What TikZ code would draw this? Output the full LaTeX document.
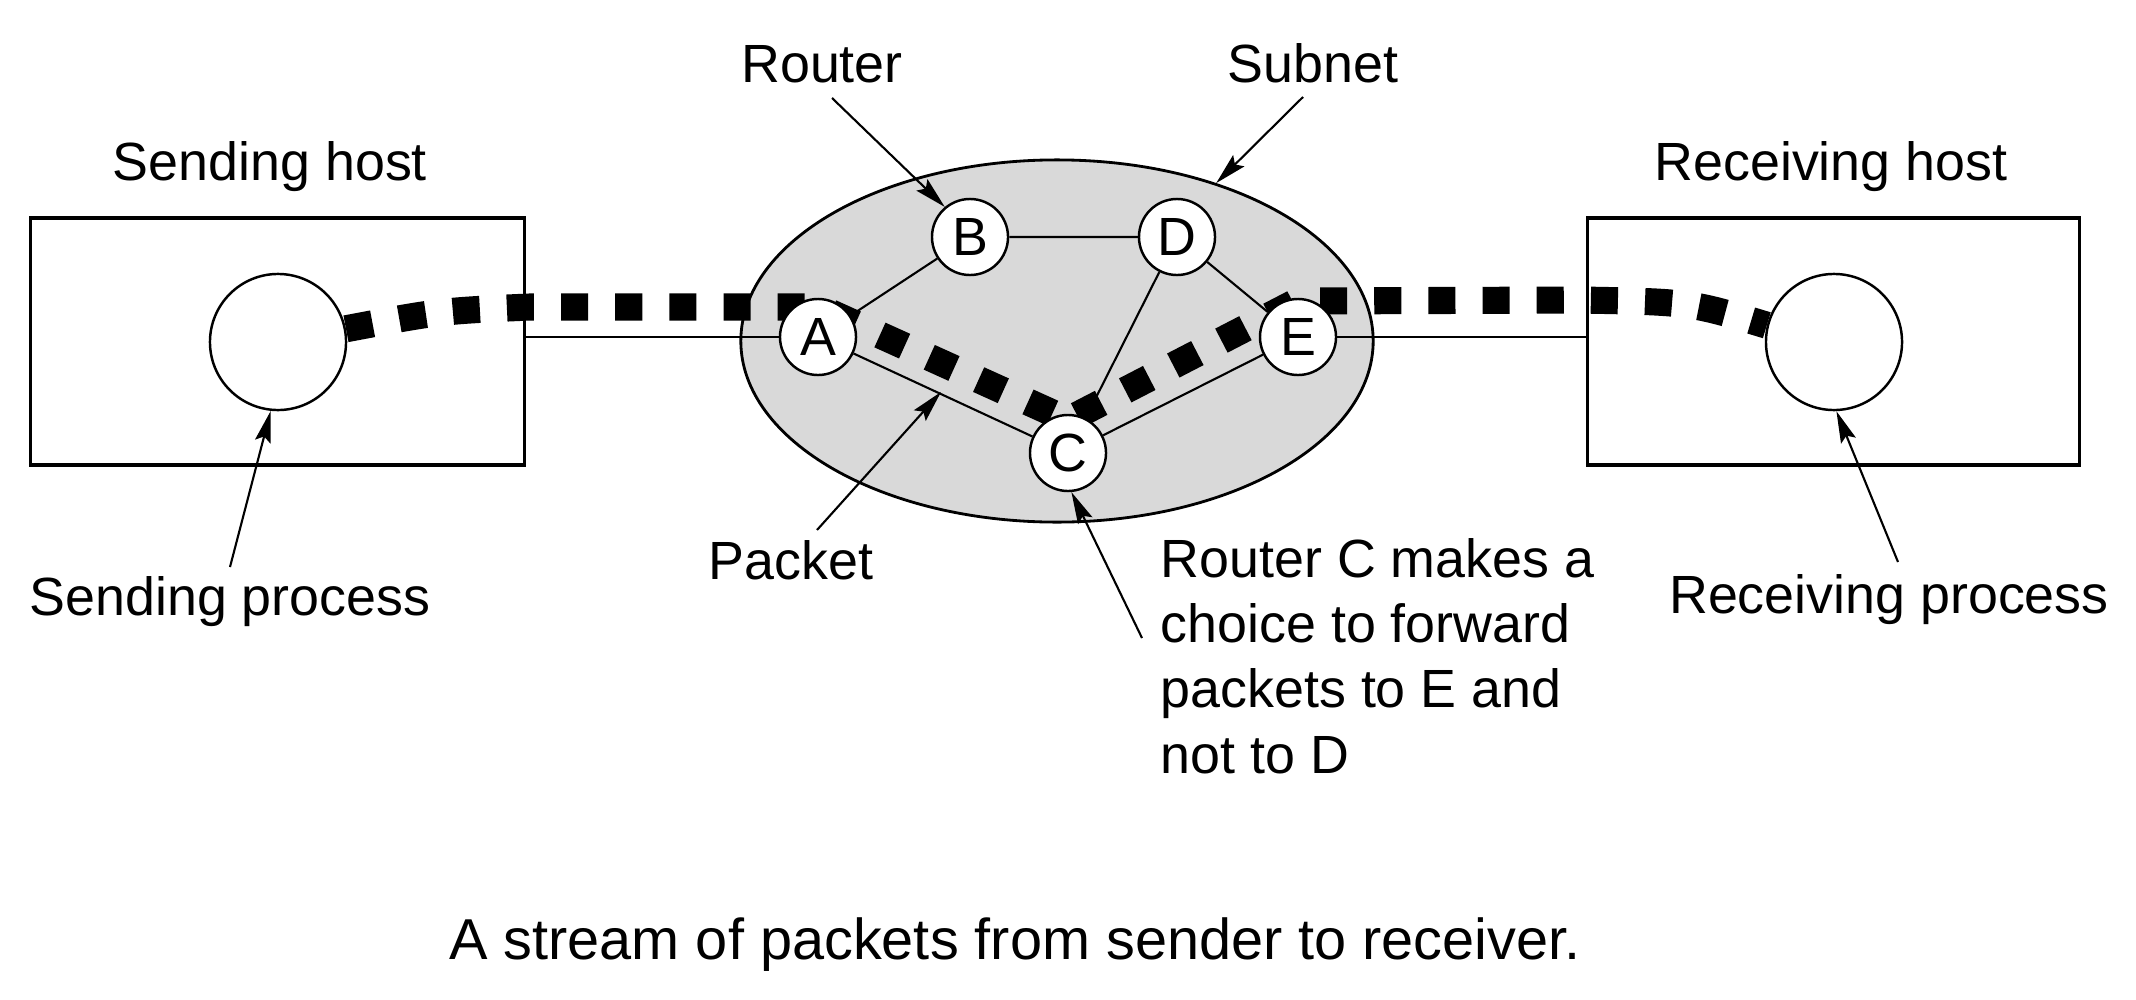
\documentclass[tikz,border=0pt]{standalone}
\usepackage{fontspec}
\setmainfont{Liberation Sans}
\usetikzlibrary{arrows.meta,shapes.geometric}
\pgfdeclarelayer{bg}
\pgfdeclarelayer{mid}
\pgfsetlayers{bg,mid,main}

\newcommand{\lblfont}{\fontsize{15.3}{18.5}\selectfont}
\newcommand{\capfont}{\fontsize{16.4}{19.5}\selectfont}

\tikzset{
  host/.style={draw, line width=0.9pt, minimum height=2.47cm, inner sep=0pt},
  proc/.style={circle, draw, line width=0.7pt, minimum size=1.36cm, inner sep=0pt},
  subnetshape/.style={ellipse, draw, fill=black!15, line width=0.8pt, minimum width=6.32cm, minimum height=3.62cm, inner sep=0pt},
  router/.style={circle, draw, fill=white, line width=0.7pt, minimum size=0.76cm, inner sep=0pt, font=\lblfont},
  link/.style={line width=0.6pt},
  stream/.style={line width=7.7pt, dash pattern=on 7.7pt off 7.7pt},
  ptr/.style={line width=0.6pt, -{Stealth[length=9pt, width=4.5pt, inset=1.5pt]}},
  tag/.style={inner sep=0pt, anchor=base, font=\lblfont}
}

\begin{document}
\begin{tikzpicture}[x=0.01cm, y=-0.01cm]
\useasboundingbox (0,0) rectangle (2136,1000);

% hosts and subnet
\begin{pgfonlayer}{bg}
\node[host, minimum width=4.93cm] (sbox) at (277.5,341.5) {};
\node[host, minimum width=4.91cm] (rbox) at (1833.5,341.5) {};
\node[subnetshape] (subnet) at (1057,341) {};
\end{pgfonlayer}

\node[proc] (sproc) at (278,342) {};
\node[proc] (rproc) at (1834,342) {};

% routers
\node[router] (A) at (818,337) {A};
\node[router] (B) at (970,237) {B};
\node[router] (C) at (1068,453) {C};
\node[router] (D) at (1177,237) {D};
\node[router] (E) at (1298,337) {E};

\begin{pgfonlayer}{mid}
\draw[link] (A) -- (A -| sbox.east);
\draw[link] (E) -- (E -| rbox.west);
\draw[link] (A) -- (B) (B) -- (D) (D) -- (E) (A) -- (C) (C) -- (E) (C) -- (D);
% packet stream
\coordinate (pa) at (818,307);
\coordinate (pc) at (1068,420);
\coordinate (pe) at (1298,301);
\draw[stream] (sproc.11) .. controls (440,311) .. (530,307) -- (pa) -- (pc) -- (pe)
  -- (1580,300) .. controls (1690,302) .. (rproc.166);
\end{pgfonlayer}

% labels
\node[tag] (lsendh) at (270,180) {Sending host};
\node[tag] (lrouter) at (822,82) {Router};
\node[tag] (lsubnet) at (1313,82) {Subnet};
\node[tag] (lrecvh) at (1831,180) {Receiving host};
\node[tag] (lsendp) at (230,615) {Sending process};
\node[tag] (lpacket) at (791,579) {Packet};
\node[tag, anchor=base west, align=left] (lchoice) at (1160,773)
  {Router C makes a\\choice to forward\\packets to E and\\not to D};
\node[tag] (lrecvp) at (1889,613) {Receiving process};
\node[tag, font=\capfont] (caption) at (1015,959) {A stream of packets from sender to receiver.};

% pointers
\coordinate (rtrtail) at (832,98);
\coordinate (subtail) at (1303,97);
\coordinate (sptail) at (230,567);
\coordinate (pkttail) at (817,530);
\coordinate (pkttip) at (941,392);
\coordinate (ctail) at (1142,638);
\coordinate (rptail) at (1898,562);
\draw[ptr] (rtrtail) -- (B.130);
\draw[ptr] (subtail) -- (subnet);
\draw[ptr] (sptail) -- (sproc.-96);
\draw[ptr] (pkttail) -- (pkttip);
\draw[ptr] (ctail) -- (C.-85);
\draw[ptr] (rptail) -- (rproc.-88);

\end{tikzpicture}
\end{document}
